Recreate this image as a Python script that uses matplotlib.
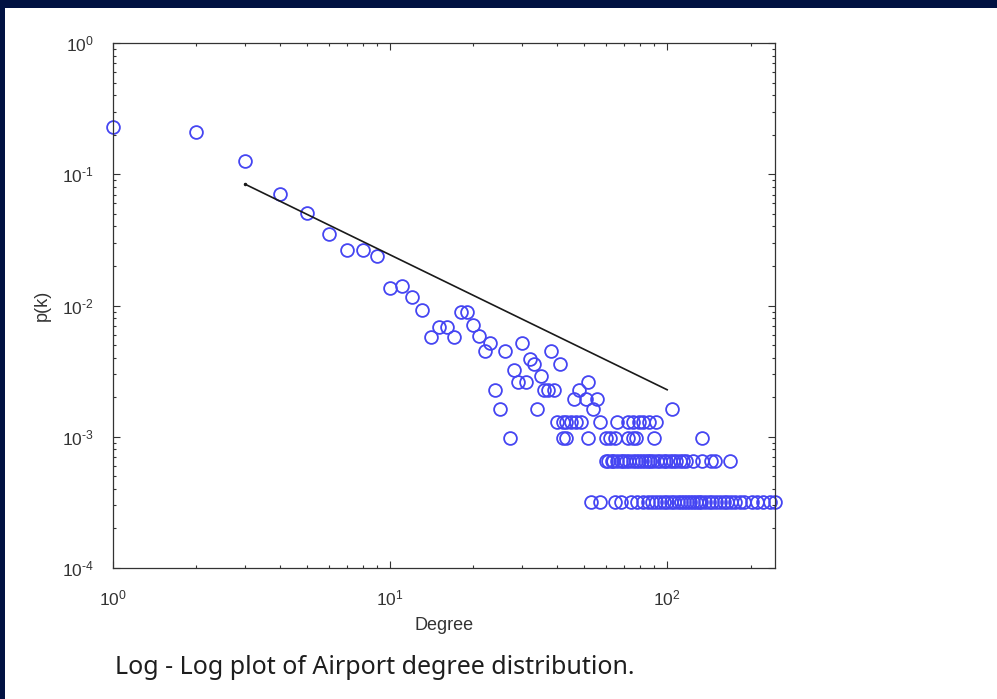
import matplotlib
matplotlib.use("Agg")
import numpy as np
import matplotlib.pyplot as plt
from matplotlib.patches import Rectangle
from matplotlib.ticker import LogLocator, FuncFormatter, NullFormatter

# ---- data ----
deg_upper = [1, 2, 3, 4, 5, 6, 7, 8, 9, 10, 11, 12, 13, 14, 15, 16, 17, 18, 19, 20,
             21, 22, 23, 24, 25, 26, 27, 28, 29, 30, 31, 32, 33, 34, 35, 36, 37, 38,
             39, 41, 46, 48, 51, 52, 54, 56, 104]
pk_upper = [0.228, 0.209, 0.126, 0.0704, 0.0504, 0.0348, 0.0263, 0.0263, 0.0237,
            0.0137, 0.0142, 0.0117, 0.0093, 0.0058, 0.0068, 0.0069, 0.0058, 0.00885,
            0.00885, 0.00716, 0.0059, 0.00453, 0.00522, 0.00228, 0.00164, 0.00453,
            0.00097, 0.00325, 0.00263, 0.00522, 0.00263, 0.00394, 0.00361, 0.00164,
            0.00292, 0.00228, 0.00228, 0.00453, 0.00228, 0.00361, 0.00194, 0.00228,
            0.00194, 0.0026, 0.00164, 0.00194, 0.00164]

deg_row4 = [40, 42, 43, 45, 47, 49, 57, 66, 72, 75, 79, 82, 86, 91]
pk_row4 = 0.0013

deg_row3 = [42, 43, 52, 60, 62, 65, 72, 75, 77, 90, 134]
pk_row3 = 0.00097

deg_row2 = [60, 61, 63, 64, 66, 68, 69, 71, 73, 75, 77, 79, 81, 83, 85, 87, 89, 92,
            94, 97, 99, 102, 105, 108, 111, 114, 117, 124, 134, 144, 149, 169]
pk_row2 = 0.00065

deg_row1 = [53, 57, 65, 68, 74, 78, 82, 85, 88, 91, 94, 97, 100, 103, 106, 109, 112,
            115, 118, 121, 124, 127, 130, 133, 137, 141, 145, 150, 155, 160, 165, 170,
            176, 183, 190, 202, 211, 222, 235, 245]
pk_row1 = 0.00032

fit_k = [3, 100]
fit_pk = [0.0839, 0.00228]

caption = "Log - Log plot of Airport degree distribution."

# ---- figure ----
plt.rcParams['font.family'] = ['Liberation Sans', 'DejaVu Sans']
plt.rcParams['mathtext.fontset'] = 'custom'
plt.rcParams['mathtext.rm'] = 'Liberation Sans'
plt.rcParams['mathtext.default'] = 'regular'

fig = plt.figure(figsize=(9.97, 6.99), dpi=100)
fig.patch.set_facecolor('white')
navy = '#011242'
fig.add_artist(Rectangle((0, 1 - 8 / 699), 1, 8 / 699, transform=fig.transFigure,
                         facecolor=navy, edgecolor='none'))
fig.add_artist(Rectangle((0, 0), 5 / 997, 1, transform=fig.transFigure,
                         facecolor=navy, edgecolor='none'))

ax = fig.add_axes([113 / 997, (699 - 568) / 699, 662 / 997, 525 / 699])

mcol = (0.27, 0.27, 0.95)
mkw = dict(linestyle='none', marker='o', markersize=9.2, markerfacecolor='none',
           markeredgecolor=mcol, markeredgewidth=1.3, clip_on=False)

ax.loglog(deg_upper, pk_upper, **mkw)
ax.loglog(deg_row4, [pk_row4] * len(deg_row4), **mkw)
ax.loglog(deg_row3, [pk_row3] * len(deg_row3), **mkw)
ax.loglog(deg_row2, [pk_row2] * len(deg_row2), **mkw)
ax.loglog(deg_row1, [pk_row1] * len(deg_row1), **mkw)
ax.loglog(fit_k, fit_pk, color='#1a1a1a', linewidth=1.2, marker='.', markersize=3,
          markevery=[0])

all_k = deg_upper + deg_row1
ax.set_xlim(min(all_k), max(all_k))
ax.set_ylim(1e-4, 1)


def pow_fmt(v, pos):
    e = int(round(np.log10(v)))
    return r'$10^{\text{%d}}$' % e


ax.xaxis.set_major_locator(LogLocator(base=10, numticks=10))
ax.yaxis.set_major_locator(LogLocator(base=10, numticks=10))
ax.xaxis.set_major_formatter(FuncFormatter(pow_fmt))
ax.yaxis.set_major_formatter(FuncFormatter(pow_fmt))
ax.xaxis.set_minor_locator(LogLocator(base=10, subs=range(2, 10), numticks=20))
ax.yaxis.set_minor_locator(LogLocator(base=10, subs=range(2, 10), numticks=20))
ax.xaxis.set_minor_formatter(NullFormatter())
ax.yaxis.set_minor_formatter(NullFormatter())

tcol = '#333333'
ax.tick_params(which='both', direction='in', top=True, right=True, colors=tcol,
               width=0.8, labelsize=12.5, labelcolor=tcol)
ax.tick_params(which='major', length=5)
ax.tick_params(which='minor', length=2.5)
ax.tick_params(axis='x', pad=15)
ax.tick_params(axis='y', pad=14)
for s in ax.spines.values():
    s.set_color(tcol)
    s.set_linewidth(0.9)

ax.set_xlabel('Degree', fontsize=13, color=tcol, labelpad=6)
ax.set_ylabel('p(k)', fontsize=13, color=tcol, labelpad=8)

fig.text(115 / 997, 1 - 668 / 699, caption, fontsize=18, color='#1e1e1e',
         family=['Noto Sans', 'DejaVu Sans'], weight='medium', ha='left', va='center')

fig.savefig('out.png', dpi=100)
